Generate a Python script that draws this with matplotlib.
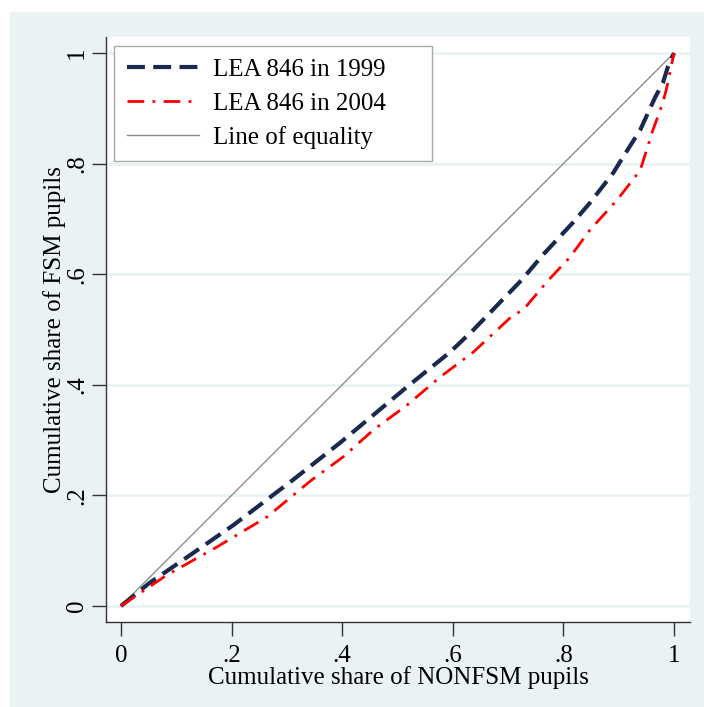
import matplotlib
matplotlib.use("Agg")
import matplotlib.pyplot as plt
from matplotlib.patches import Rectangle

plt.rcParams["font.family"] = ["Liberation Serif", "DejaVu Serif"]

# cumulative shares
x_1999 = [0, 0.052, 0.112, 0.203, 0.311, 0.396, 0.456, 0.517, 0.595, 0.637,
          0.725, 0.763, 0.817, 0.848, 0.890, 0.908, 0.939, 0.966, 0.980, 0.989, 1]
y_1999 = [0, 0.042, 0.083, 0.146, 0.228, 0.295, 0.345, 0.396, 0.459, 0.499,
          0.590, 0.635, 0.693, 0.729, 0.783, 0.812, 0.861, 0.920, 0.946, 0.975, 1]

x_2004 = [0, 0.083, 0.174, 0.264, 0.345, 0.401, 0.456, 0.517, 0.577, 0.637,
          0.709, 0.727, 0.770, 0.812, 0.848, 0.897, 0.939, 0.962, 0.980, 0.989, 1]
y_2004 = [0, 0.056, 0.107, 0.161, 0.228, 0.269, 0.318, 0.363, 0.414, 0.459,
          0.526, 0.535, 0.586, 0.631, 0.680, 0.734, 0.788, 0.861, 0.910, 0.946, 1]

ticks = [0, 0.2, 0.4, 0.6, 0.8, 1]
tick_labels = ["0", ".2", ".4", ".6", ".8", "1"]

bg = "#EAF2F3"
fs = 18

fig = plt.figure(figsize=(7.04, 7.07), dpi=100)
fig.patches.append(Rectangle((10 / 704, 0), 1, (707 - 12) / 707,
                             transform=fig.transFigure, color=bg, zorder=-5))

ax = fig.add_axes([106 / 704, (707 - 622) / 707, 584 / 704, 585 / 707])
ax.set_facecolor("white")

ax.plot(x_1999, y_1999, color="#1a2a4f", lw=3, ls=(0, (4.3, 2)),
        label="LEA 846 in 1999", zorder=3)
ax.plot(x_2004, y_2004, color="#ff0000", lw=2, ls=(0, (6, 3, 1, 3)),
        label="LEA 846 in 2004", zorder=3)
ax.plot([0, 1], [0, 1], color="#8c8c8c", lw=1, label="Line of equality", zorder=2)

ax.set_xlim(-0.0271, 1.029)
ax.set_ylim(-0.029, 1.029)
ax.set_xticks(ticks)
ax.set_xticklabels(tick_labels)
ax.set_yticks(ticks)
ax.set_yticklabels(tick_labels, rotation=90, va="center")
ax.tick_params(axis="both", labelsize=fs, length=10, width=1, color="#333333",
               direction="out")
ax.tick_params(axis="y", pad=3)
ax.tick_params(axis="x", pad=6.5)
ax.yaxis.grid(True, color=bg, lw=2)
ax.set_axisbelow(True)

for side in ("top", "right"):
    ax.spines[side].set_visible(False)
for side in ("left", "bottom"):
    ax.spines[side].set_color("#333333")
    ax.spines[side].set_linewidth(1)

ax.set_xlabel("Cumulative share of NONFSM pupils", fontsize=fs, labelpad=-1)
ax.set_ylabel("Cumulative share of FSM pupils", fontsize=fs, labelpad=0)

# legend box spans px 114..432 horizontally, 46..160 vertically
leg_w = (432 - 114) / 584
leg_h = (160 - 46) / 585
leg = ax.legend(loc="upper left",
                bbox_to_anchor=(0.0137, 0.985 - leg_h, leg_w, leg_h),
                mode="expand", borderaxespad=0, fontsize=fs, fancybox=False,
                framealpha=1, edgecolor="#aaaaaa", handlelength=2.9,
                handletextpad=0.55, labelspacing=0.45, borderpad=0.5)
leg.get_frame().set_linewidth(1)

fig.savefig("out.png", dpi=100, facecolor="white")
